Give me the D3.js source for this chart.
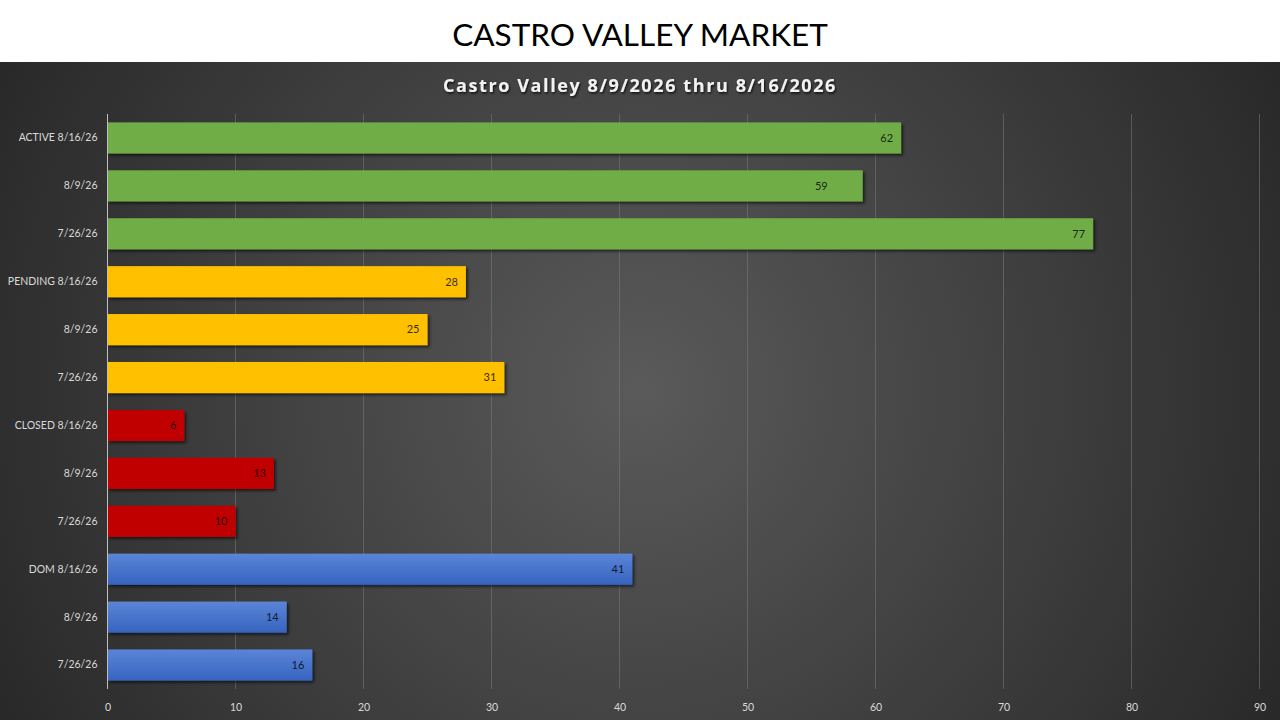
<!DOCTYPE html>
<html><head><meta charset="utf-8">
<script src="https://cdn.jsdelivr.net/npm/d3@7"></script>
<style>
html,body{margin:0;padding:0;background:#fff;}
svg{display:block;}
</style></head>
<body>
<svg id="c" width="1280" height="720"></svg>
<script>
const categories = ["ACTIVE 8/16/26","8/9/26","7/26/26","PENDING 8/16/26","8/9/26","7/26/26","CLOSED 8/16/26","8/9/26","7/26/26","DOM 8/16/26","8/9/26","7/26/26"];
const groups = ["active","active","active","pending","pending","pending","closed","closed","closed","dom","dom","dom"];
const values = [62,59,77,28,25,31,6,13,10,41,14,16];
const xTicks = [0,10,20,30,40,50,60,70,80,90];
const colors = {active:"#70ad47", pending:"#ffc000", closed:"#c00000", dom:"url(#blueGrad)"};
const mainTitle = "CASTRO VALLEY MARKET";
const subTitle = "Castro Valley 8/9/2026 thru 8/16/2026";

const svg = d3.select("#c");
const defs = svg.append("defs");
const rg = defs.append("radialGradient").attr("id","bg").attr("gradientUnits","userSpaceOnUse")
  .attr("cx",640).attr("cy",390).attr("r",760);
rg.append("stop").attr("offset","0%").attr("stop-color","#5a5a5a");
rg.append("stop").attr("offset","100%").attr("stop-color","#262626");
const bg = defs.append("linearGradient").attr("id","blueGrad").attr("x1",0).attr("y1",0).attr("x2",0).attr("y2",1);
bg.append("stop").attr("offset","0%").attr("stop-color","#5b85d6");
bg.append("stop").attr("offset","100%").attr("stop-color","#3564c0");
const f = defs.append("filter").attr("id","sh").attr("x","-10%").attr("y","-30%").attr("width","130%").attr("height","180%");
f.append("feDropShadow").attr("dx",2).attr("dy",2).attr("stdDeviation",1.5).attr("flood-color","#000").attr("flood-opacity",0.6);
const ft = defs.append("filter").attr("id","tsh").attr("x","-10%").attr("y","-30%").attr("width","120%").attr("height","180%");
ft.append("feDropShadow").attr("dx",1).attr("dy",1.5).attr("stdDeviation",1).attr("flood-color","#000").attr("flood-opacity",0.8);

svg.append("rect").attr("x",0).attr("y",0).attr("width",1280).attr("height",62).attr("fill","#fff");
svg.append("rect").attr("x",0).attr("y",62).attr("width",1280).attr("height",658).attr("fill","url(#bg)");

svg.append("text").attr("x",640).attr("y",46).attr("text-anchor","middle")
  .attr("font-family","Lato, 'Open Sans', sans-serif").attr("font-size",31.5).attr("fill","#000")
  .text(mainTitle);
svg.append("text").attr("x",640).attr("y",92).attr("text-anchor","middle")
  .attr("font-family","'Open Sans', Lato, sans-serif").attr("font-weight","bold").attr("font-size",18)
  .attr("letter-spacing",1.6).attr("fill","#f2f2f2").attr("filter","url(#tsh)")
  .text(subTitle);

const x = d3.scaleLinear().domain([0,90]).range([107.5,1259.5]);
const idx = d3.range(categories.length);
const y = d3.scaleBand().domain(idx).range([114,689]).paddingInner(0.35).paddingOuter(0.175);

// gridlines
svg.append("g").selectAll("line").data(xTicks.slice(1)).join("line")
  .attr("x1",d=>x(d)).attr("x2",d=>x(d)).attr("y1",114).attr("y2",689)
  .attr("stroke","#7a7a7a").attr("stroke-opacity",0.55).attr("stroke-width",1);

// bars
svg.append("g").selectAll("rect").data(idx).join("rect")
  .attr("x",x(0)).attr("y",i=>y(i)).attr("width",i=>x(values[i])-x(0)).attr("height",y.bandwidth())
  .attr("fill",i=>colors[groups[i]]).attr("filter","url(#sh)");

// y axis line
svg.append("line").attr("x1",x(0)).attr("x2",x(0)).attr("y1",114).attr("y2",689)
  .attr("stroke","#bfbfbf").attr("stroke-width",1);

// data labels (one label was hand-moved in the original)
const labelNudge = {1:-27};
svg.append("g").selectAll("text").data(idx).join("text")
  .attr("x",i=>x(values[i])-8+(labelNudge[i]||0)).attr("y",i=>y(i)+y.bandwidth()/2).attr("dy","0.35em")
  .attr("text-anchor","end").attr("font-family","Lato, 'Open Sans', sans-serif").attr("font-size",11)
  .attr("fill","#000").attr("fill-opacity",0.8).text(i=>values[i]);

// category labels
const yAxis = d3.axisLeft(y).tickSize(0).tickPadding(10).tickFormat(i=>categories[i]);
const gy = svg.append("g").attr("transform",`translate(${x(0)},0)`).call(yAxis);
gy.select(".domain").remove();
gy.selectAll("text").attr("font-family","Lato, 'Open Sans', sans-serif").attr("font-size",10.5).attr("fill","#d9d9d9");

// x axis
const xAxis = d3.axisBottom(x).tickValues(xTicks).tickSize(0).tickPadding(10);
const gx = svg.append("g").attr("transform","translate(0,694)").call(xAxis);
gx.select(".domain").remove();
gx.selectAll("text").attr("font-family","Lato, 'Open Sans', sans-serif").attr("font-size",10.5).attr("fill","#d9d9d9");
</script>
</body></html>
